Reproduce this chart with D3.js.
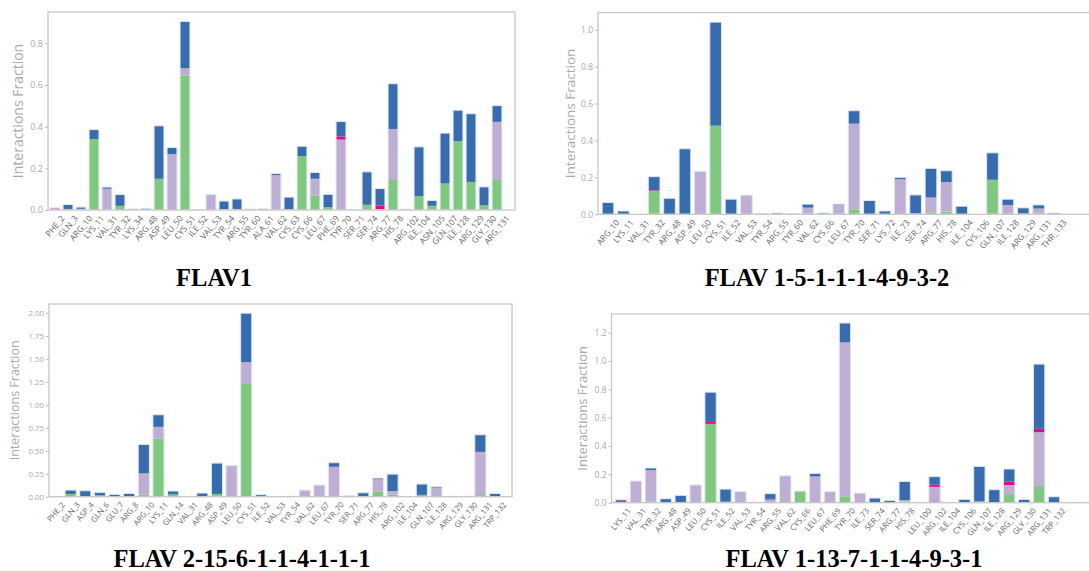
<!DOCTYPE html>
<html>
<head>
<meta charset="utf-8">
<script src="https://cdn.jsdelivr.net/npm/d3@7"></script>
<style>
  body { margin: 0; background: #fff; }
  svg { display: block; }
</style>
</head>
<body>
<div id="chart"></div>
<script>
// stacked interaction fractions, 4 ligands
// order in each stack: H-bonds, hydrophobic, ionic, water bridges
var colors = ["#7fc97f", "#beaed4", "#f0027f", "#386cb0"];

var flav1Residues = ["PHE_2","GLN_3","ARG_10","LYS_11","VAL_31","TYR_32","LYS_34","ARG_48","ASP_49","LEU_50","CYS_51","ILE_52","VAL_53","TYR_54","ARG_55","TYR_60","ALA_61","VAL_62","CYS_63","CYS_66","LEU_67","PHE_69","TYR_70","SER_71","SER_74","ARG_77","HIS_78","ARG_102","ILE_104","ASN_105","GLN_107","ILE_128","ARG_129","GLY_130","ARG_131"];
var flav1HBond =       [0,0.005,0,0.34,0,0.02,0.003,0,0.15,0,0.645,0,0,0.003,0.005,0.005,0.006,0,0.002,0.258,0.07,0.013,0,0,0.025,0.003,0.144,0,0.066,0.02,0.127,0.33,0.135,0.022,0.144];
var flav1Hydrophobic = [0.007,0,0.003,0,0.102,0,0,0.002,0,0.268,0.035,0.003,0.075,0,0,0,0,0.167,0,0,0.08,0,0.338,0.003,0,0,0.245,0.005,0,0,0,0,0,0,0.279];
var flav1Ionic =       [0.003,0,0.003,0,0,0,0,0,0,0,0,0,0,0,0,0,0,0,0,0,0,0,0.015,0,0,0.018,0,0,0,0,0,0,0.004,0,0];
var flav1Water =       [0,0.021,0.008,0.046,0.008,0.054,0.002,0.006,0.254,0.032,0.225,0,0,0.04,0.048,0,0,0.008,0.06,0.048,0.03,0.062,0.072,0,0.158,0.082,0.217,0,0.237,0.026,0.242,0.149,0.323,0.089,0.078];
var flav1Ticks = [0, 0.2, 0.4, 0.6, 0.8];

var flavBResidues = ["ARG_10","LYS_11","VAL_31","TYR_32","ARG_48","ASP_49","LEU_50","CYS_51","ILE_52","VAL_53","TYR_54","ARG_55","TYR_60","VAL_62","CYS_66","LEU_67","TYR_70","SER_71","LYS_72","ILE_73","SER_74","ARG_77","HIS_78","ILE_104","CYS_106","GLN_107","ILE_128","ARG_129","ARG_131","THR_133"];
var flavBHBond =       [0,0,0,0.127,0,0,0,0.48,0,0,0,0,0,0,0.004,0,0.027,0,0,0,0.007,0.011,0.015,0,0,0.187,0,0.004,0.005,0];
var flavBHydrophobic = [0,0,0,0,0,0,0.233,0,0,0.104,0,0,0,0.036,0,0.05,0.464,0,0,0.19,0,0.08,0.16,0,0,0,0.05,0,0.026,0];
var flavBIonic =       [0,0,0,0.003,0,0,0,0,0,0,0,0,0,0,0,0,0,0,0,0,0,0,0,0,0,0,0,0,0,0];
var flavBWater =       [0.064,0.018,0,0.074,0.087,0.355,0,0.561,0.082,0,0.005,0.007,0.003,0.019,0.004,0.005,0.07,0.075,0.018,0.01,0.098,0.158,0.061,0.044,0,0.146,0.032,0.031,0.02,0.007];
var flavBTicks = [0, 0.2, 0.4, 0.6, 0.8, 1.0];

var flavCResidues = ["PHE_2","GLN_3","ASP_4","GLN_6","GLU_7","ARG_8","ARG_10","LYS_11","GLN_14","VAL_31","ARG_48","ASP_49","LEU_50","CYS_51","ILE_52","VAL_53","TYR_54","VAL_62","LEU_67","TYR_70","SER_71","ARG_77","HIS_78","ARG_102","ILE_104","GLN_107","ILE_128","ARG_129","GLY_130","ARG_131","TRP_132"];
var flavCHBond =       [0,0.03,0.005,0.015,0,0.004,0.025,0.63,0.025,0,0.004,0.03,0,1.227,0.004,0,0,0,0,0,0,0.005,0.054,0.022,0,0.02,0,0,0,0.018,0];
var flavCHydrophobic = [0,0,0,0,0,0,0.229,0.13,0,0,0,0,0.34,0.236,0,0.003,0.002,0.072,0.127,0.326,0,0,0.135,0.04,0,0,0.1,0,0,0.47,0];
var flavCIonic =       [0,0,0,0,0,0,0,0,0,0,0,0,0,0,0,0,0,0,0,0,0,0,0,0,0,0,0,0,0,0,0];
var flavCWater =       [0.003,0.042,0.06,0.032,0.025,0.032,0.315,0.132,0.037,0,0.036,0.336,0,0.535,0.018,0,0.003,0,0,0.044,0.01,0.038,0.014,0.184,0,0.118,0.012,0.005,0.005,0.186,0.036];
var flavCTicks = [0, 0.25, 0.5, 0.75, 1.0, 1.25, 1.5, 1.75, 2.0];

var flavDResidues = ["LYS_11","VAL_31","TYR_32","ARG_48","ASP_49","LEU_50","CYS_51","ILE_52","VAL_53","TYR_54","ARG_55","VAL_62","CYS_66","LEU_67","PHE_69","TYR_70","ILE_73","SER_74","ARG_77","HIS_78","LEU_100","ARG_102","ILE_104","CYS_106","GLN_107","ILE_128","ARG_129","GLY_130","ARG_131","TRP_132"];
var flavDHBond =       [0,0,0.01,0,0.005,0,0.556,0.007,0,0,0.005,0,0.082,0,0,0.045,0,0,0,0.008,0,0.012,0,0,0.01,0,0.061,0,0.118,0];
var flavDHydrophobic = [0.006,0.153,0.22,0,0,0.125,0,0,0.078,0,0.017,0.19,0,0.185,0.078,1.086,0.068,0,0,0.01,0,0.1,0,0,0,0,0.064,0,0.379,0];
var flavDIonic =       [0.008,0,0,0,0,0,0.014,0,0,0,0.005,0,0,0,0,0,0,0,0,0,0,0.016,0,0,0,0,0.023,0,0.024,0.003];
var flavDWater =       [0.008,0,0.015,0.028,0.047,0,0.21,0.089,0,0.003,0.037,0,0,0.022,0,0.137,0,0.033,0.016,0.132,0,0.056,0,0.024,0.246,0.092,0.09,0.024,0.457,0.039];
var flavDTicks = [0, 0.2, 0.4, 0.6, 0.8, 1.0, 1.2];

var titles = ["FLAV1", "FLAV 1-5-1-1-1-4-9-3-2", "FLAV 2-15-6-1-1-4-1-1-1", "FLAV 1-13-7-1-1-4-9-3-1"];

var w = 1089, h = 571;

var svg = d3.select("#chart").append("svg")
    .attr("width", w)
    .attr("height", h);

// layout of each panel (frame + bar span + label spots + font sizes)
var panels = [
  { res: flav1Residues, series: [flav1HBond, flav1Hydrophobic, flav1Ionic, flav1Water], ticks: flav1Ticks, fmt: ".1f",
    left: 48, right: 515, top: 12, bottom: 210, x0: 48.5, x1: 503.5, ylab: 18, title: titles[0], tx: 214, ty: 286,
    tickFs: 9, labFs: 14, xFs: 8.4 },
  { res: flavBResidues, series: [flavBHBond, flavBHydrophobic, flavBIonic, flavBWater], ticks: flavBTicks, fmt: ".1f",
    left: 598, right: 1096, top: 12.5, bottom: 214.3, x0: 600.3, x1: 1061.7, ylab: 570, title: titles[1], tx: 827, ty: 286,
    tickFs: 8.5, labFs: 13.5, xFs: 8.4 },
  { res: flavCResidues, series: [flavCHBond, flavCHydrophobic, flavCIonic, flavCWater], ticks: flavCTicks, fmt: ".2f",
    left: 49, right: 512, top: 304, bottom: 496.7, x0: 48.7, x1: 502.3, ylab: 15, title: titles[2], tx: 242, ty: 567,
    tickFs: 7.8, labFs: 12.5, xFs: 7.8 },
  { res: flavDResidues, series: [flavDHBond, flavDHydrophobic, flavDIonic, flavDWater], ticks: flavDTicks, fmt: ".1f",
    left: 611.5, right: 1096, top: 314, bottom: 502.7, x0: 613.5, x1: 1061.5, ylab: 582, title: titles[3], tx: 854, ty: 567,
    tickFs: 8.5, labFs: 13, xFs: 8 }
];

var angle = 50; // label slant, degrees

panels.forEach(function(p) {
  var rows = p.res.map(function(r, i) {
    return { res: r, a: p.series[0][i], b: p.series[1][i], c: p.series[2][i], d: p.series[3][i] };
  });
  var stack = d3.stack().keys(["a", "b", "c", "d"])(rows);
  var ymax = d3.max(rows, function(r) { return r.a + r.b + r.c + r.d; }) * 1.05;

  var x = d3.scaleBand().domain(p.res).range([p.x0, p.x1]).paddingInner(0.24).paddingOuter(0.12);
  var y = d3.scaleLinear().domain([0, ymax]).range([p.bottom, p.top]);

  var g = svg.append("g");

  // bars
  g.selectAll(".layer")
    .data(stack)
    .enter().append("g")
    .attr("fill", function(d, i) { return colors[i]; })
    .selectAll("rect")
    .data(function(d) { return d; })
    .enter().append("rect")
    .filter(function(d) { return d[1] - d[0] > 0; })
    .attr("x", function(d) { return x(d.data.res); })
    .attr("width", x.bandwidth())
    .attr("y", function(d) { return y(d[1]); })
    .attr("height", function(d) { return y(d[0]) - y(d[1]); });

  // thin light outline round each full bar
  g.selectAll(".outline")
    .data(rows)
    .enter().append("rect")
    .attr("x", function(d) { return x(d.res); })
    .attr("width", x.bandwidth())
    .attr("y", function(d) { return y(d.a + d.b + d.c + d.d); })
    .attr("height", function(d) { return p.bottom - y(d.a + d.b + d.c + d.d); })
    .attr("fill", "none")
    .attr("stroke", "#dfe8f3")
    .attr("stroke-width", 1);

  // frame
  g.append("rect")
    .attr("x", p.left).attr("y", p.top)
    .attr("width", p.right - p.left).attr("height", p.bottom - p.top)
    .attr("fill", "none")
    .attr("stroke", "#c8c8c8")
    .attr("stroke-width", 1.3);

  // y axis
  var yAxis = d3.axisLeft(y).tickValues(p.ticks).tickFormat(d3.format(p.fmt)).tickSize(3).tickPadding(2);
  var ya = g.append("g").attr("transform", "translate(" + p.left + ",0)").call(yAxis);
  ya.select(".domain").remove();
  ya.selectAll("line").attr("stroke", "#bbb");
  ya.selectAll("text").attr("fill", "#aaa").style("font", p.tickFs + "px 'Open Sans', sans-serif");

  // x labels, centred under each bar like matplotlib ha='center'
  var xAxis = d3.axisBottom(x).tickSize(0).tickPadding(0);
  var xa = g.append("g").attr("transform", "translate(0," + p.bottom + ")").call(xAxis);
  xa.select(".domain").remove();
  var rad = angle * Math.PI / 180;
  xa.selectAll("text")
    .style("font", p.xFs + "px 'Open Sans', sans-serif")
    .style("text-anchor", "middle")
    .attr("fill", "#666")
    .attr("y", 0)
    .attr("dy", "0.35em")
    .attr("transform", function() {
      var L = this.getComputedTextLength();
      var bh = L * Math.sin(rad) + p.xFs * Math.cos(rad);
      return "translate(0," + (4 + bh / 2) + ") rotate(" + (-angle) + ")";
    });

  // y label
  g.append("text")
    .attr("transform", "translate(" + p.ylab + "," + ((p.top + p.bottom) / 2) + ") rotate(-90)")
    .attr("dy", "0.35em")
    .style("text-anchor", "middle")
    .attr("fill", "#aaa")
    .style("font", p.labFs + "px 'Open Sans', sans-serif")
    .text("Interactions Fraction");

  // title
  g.append("text")
    .attr("x", p.tx).attr("y", p.ty)
    .style("text-anchor", "middle")
    .style("font", "bold 24.5px 'Liberation Serif', 'Times New Roman', serif")
    .attr("fill", "#000")
    .text(p.title);
});
</script>
</body>
</html>
